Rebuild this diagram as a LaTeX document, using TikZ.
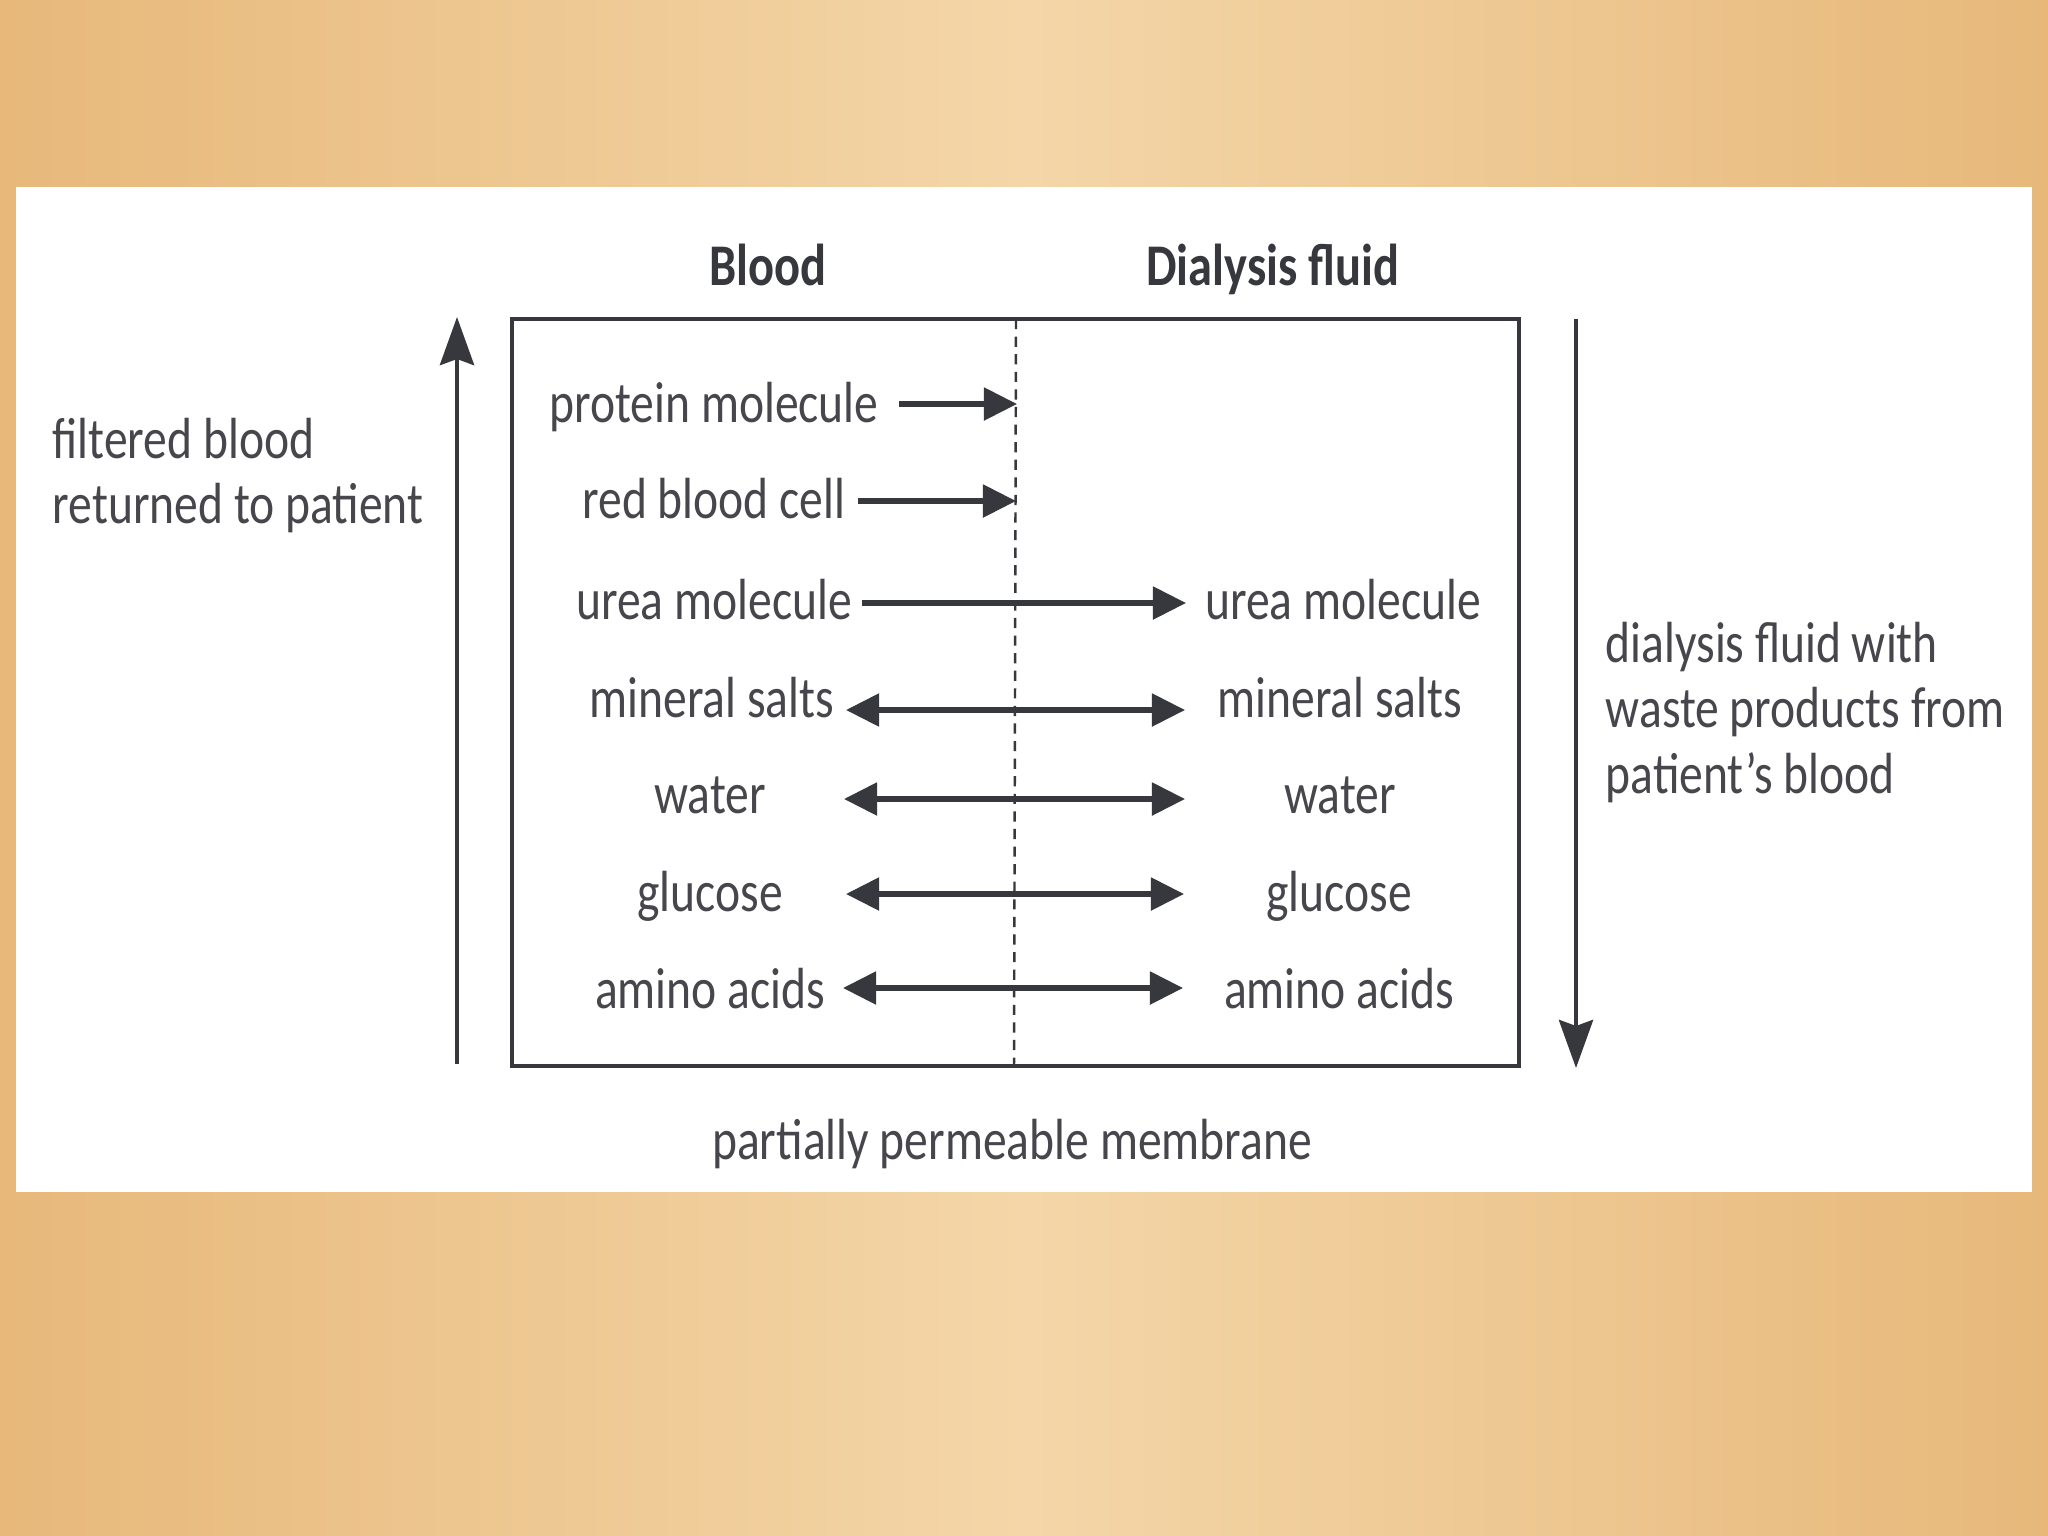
\documentclass[tikz,border=0pt]{standalone}
\usepackage{fontspec}
\setmainfont[FakeStretch=0.82]{Carlito}
\usetikzlibrary{arrows.meta}
\definecolor{ink}{RGB}{55,55,62}
\definecolor{type}{RGB}{70,70,76}
\definecolor{wood}{RGB}{231,184,122}
\definecolor{woodlight}{RGB}{244,214,168}
\tikzset{
  label/.style={anchor=mid, inner sep=0pt, text=type},
  head/.style={anchor=base, inner sep=0pt, text=ink, font=\fontsize{16.8}{19}\selectfont\bfseries},
  flow/.style={draw=ink, line width=1.5pt, -{Triangle[length=0.33cm, width=0.32cm]}},
  both/.style={flow, {Triangle[length=0.33cm, width=0.32cm]}-{Triangle[length=0.33cm, width=0.32cm]}},
  stream/.style={draw=ink, line width=1.3pt, -{Stealth[length=0.48cm, width=0.34cm, inset=0.06cm]}}
}
\begin{document}
\begin{tikzpicture}[x=0.01cm, y=-0.01cm, font=\fontsize{16.5}{18.7}\selectfont]
  \useasboundingbox (0,0) rectangle (2048,1536);
  \shade[left color=wood, right color=wood, middle color=woodlight] (0,0) rectangle (2048,1536);
  \fill[white] (16,187) rectangle (2032,1192);

  % dialyser and membrane
  \draw[ink, line width=1.2pt] (512,319) rectangle (1519,1066);
  \coordinate (mt) at (1016,319);
  \coordinate (mb) at (1014,1066);
  \draw[ink, line width=0.7pt, dash pattern=on 2.9pt off 2.1pt] (mt) -- (mb);

  % headings
  \node[head] (blood) at (768,285) {Blood};
  \node[head] (fluid) at (1273,285) {Dialysis fluid};

  % blood side
  \node[label] (pro) at (714,414) {protein molecule};
  \node[label] (rbc) at (714,510) {red blood cell};
  \node[label] (ure) at (714,611) {urea molecule};
  \node[label] (min) at (712,709) {mineral salts};
  \node[label] (wat) at (710,805) {water};
  \node[label] (glu) at (710,903) {glucose};
  \node[label] (ami) at (710,1000) {amino acids};

  % fluid side
  \node[label] (ure2) at (1343,611) {urea molecule};
  \node[label] (min2) at (1340,709) {mineral salts};
  \node[label] (wat2) at (1340,805) {water};
  \node[label] (glu2) at (1339,903) {glucose};
  \node[label] (ami2) at (1339,1000) {amino acids};

  % arrow ends
  \coordinate (pa) at (899,404);  \coordinate (pb) at (1017,404);
  \coordinate (ra) at (858,501);  \coordinate (rb) at (1016,501);
  \coordinate (ua) at (862,603);  \coordinate (ub) at (1186,603);
  \coordinate (ma) at (846,710);  \coordinate (mb2) at (1185,710);
  \coordinate (wa) at (844,799);  \coordinate (wb) at (1185,799);
  \coordinate (ga) at (846,894);  \coordinate (gb) at (1184,894);
  \coordinate (aa) at (843,988);  \coordinate (ab) at (1183,988);
  \begin{scope}
    \draw[flow] (pa) to (pb);
    \draw[flow] (ra) to (rb);
    \draw[flow] (ua) to (ub);
    \draw[both] (ma) to (mb2);
    \draw[both] (wa) to (wb);
    \draw[both] (ga) to (gb);
    \draw[both] (aa) to (ab);
  \end{scope}

  % blood and fluid streams
  \coordinate (inb) at (457,1064);
  \coordinate (int) at (457,317);
  \coordinate (outt) at (1576,319);
  \coordinate (outb) at (1576,1068);
  \draw[stream] (inb) -- (int);
  \draw[stream] (outt) -- (outb);

  \node[anchor=north west, inner sep=0pt, align=left, text=type] (ret) at (52,417)
    {filtered blood\\returned to patient};
  \node[anchor=north west, inner sep=0pt, align=left, text=type] (waste) at (1605,621)
    {dialysis fluid with\\waste products from\\patient’s blood};
  \node[label] (memb) at (1012,1151) {partially permeable membrane};
\end{tikzpicture}
\end{document}
